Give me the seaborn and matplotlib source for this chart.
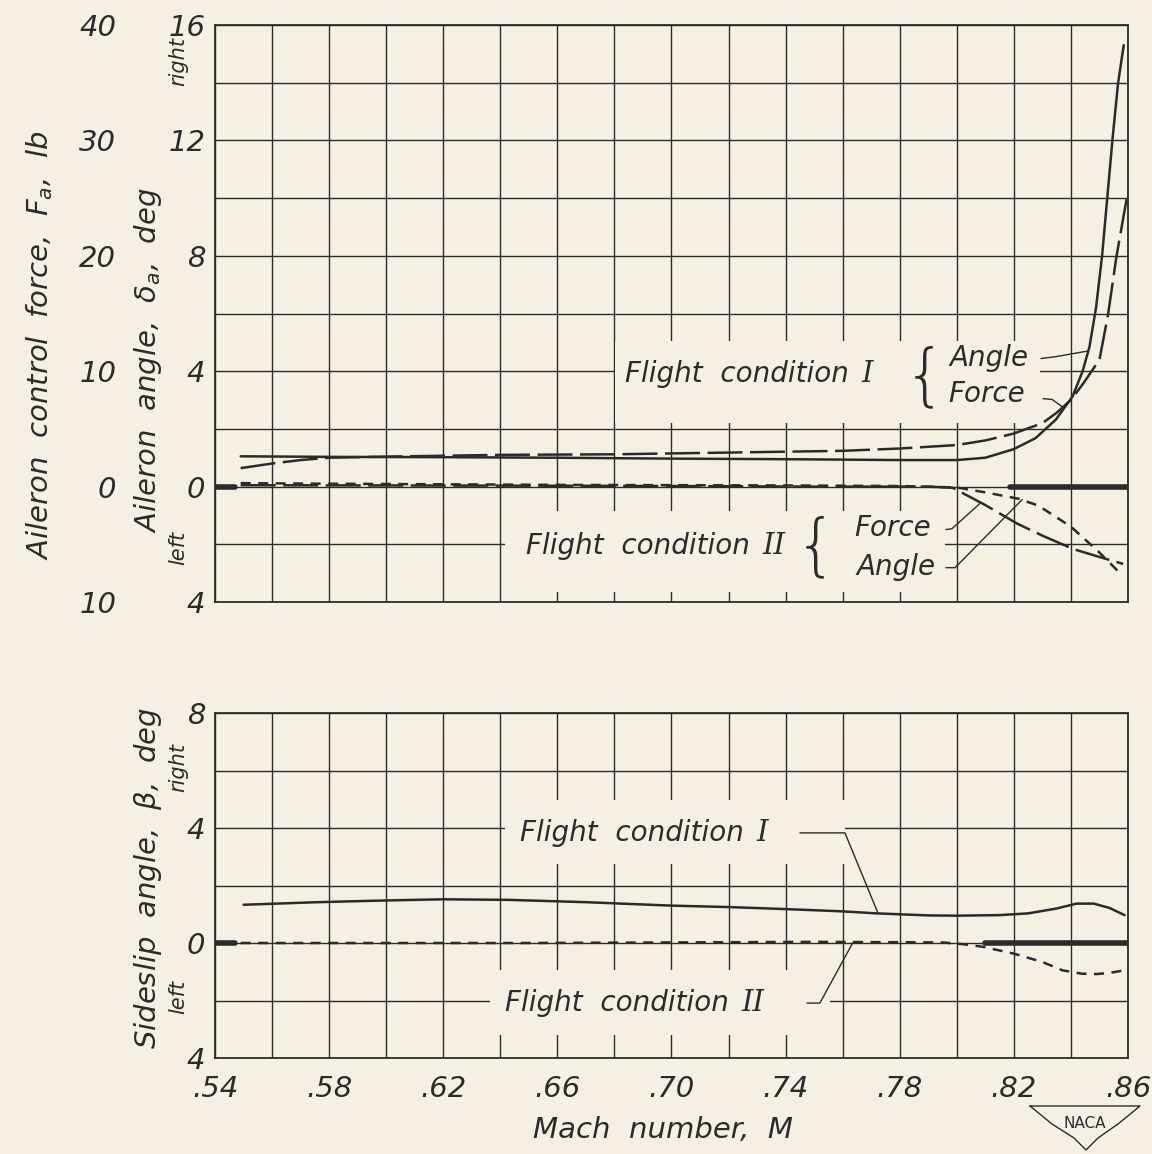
import numpy as np
import pandas as pd
import matplotlib
matplotlib.use("Agg")
import matplotlib.pyplot as plt
from matplotlib.patches import Rectangle
import seaborn as sns

# ---- data ----
# top panel: aileron angle (deg) and aileron force (lb), flight conditions I and II
mach_ang_1 = [.549, .58, .62, .66, .70, .74, .78, .80, .81, .82, .8276, .8347, .8406,
              .8441, .8465, .8488, .8509, .8527, .8545, .8565, .8585]
ang_1 = [1.05, 1.03, 1.02, 1.0, .97, .95, .92, .92, 1.0, 1.3, 1.68, 2.32, 3.13,
         4.0, 4.85, 6.2, 7.98, 9.97, 11.97, 13.97, 15.3]

mach_frc_1 = [.549, .56, .57, .58, .60, .64, .68, .72, .76, .78, .80, .81, .82, .83,
              .835, .84, .8445, .85, .853, .856, .8595]
frc_1 = [1.6, 2.0, 2.3, 2.5, 2.6, 2.75, 2.8, 2.95, 3.1, 3.3, 3.6, 4.0, 4.6, 5.5,
         6.4, 7.5, 9.0, 11.0, 14.9, 20.0, 24.9]

mach_ang_2 = [.549, .58, .62, .66, .70, .74, .78, .80, .81, .8216, .8286, .84, .8496, .858]
ang_2 = [.12, .1, .08, .06, .05, .04, .02, -.03, -.2, -.42, -.66, -1.39, -2.25, -3.08]

mach_frc_2 = [.549, .60, .65, .70, .75, .79, .7985, .81, .8211, .83, .8407, .85, .8583]
frc_2 = [.12, .1, .08, .05, 0, 0, -.1, -1.6, -3.2, -4.25, -5.4, -6.1, -6.7]

# bottom panel: sideslip angle (deg)
mach_beta_1 = [.55, .576, .60, .62, .643, .67, .70, .72, .74, .76, .772, .79, .80,
               .815, .825, .835, .842, .848, .8535, .8588]
beta_1 = [1.33, 1.42, 1.48, 1.52, 1.5, 1.42, 1.3, 1.25, 1.18, 1.1, 1.03, .96, .95,
          .97, 1.03, 1.2, 1.37, 1.37, 1.22, .97]

mach_beta_2 = [.549, .60, .65, .70, .75, .795, .802, .809, .82, .83, .837, .844,
               .849, .8535, .8588]
beta_2 = [0, 0, 0, .02, .04, .02, -.04, -.13, -.37, -.66, -.95, -1.07, -1.08, -1.04, -.95]

# heavy zero reference marks
zero_left = [.54, .547]
zero_right_top = [.8185, .86]
zero_right_bot = [.81, .86]
zero_val = [0, 0]

x_ticks = [.54, .58, .62, .66, .70, .74, .78, .82, .86]
ang_ticks = [-4, 0, 4, 8, 12, 16]
frc_ticks = [-10, 0, 10, 20, 30, 40]
beta_ticks = [-4, 0, 4, 8]

# ---- style ----
bg = "#f6f0e4"
ink = "#2b2b2b"
sns.set_style("white")
plt.rcParams["font.family"] = ["DejaVu Sans"]
plt.rcParams["font.style"] = "italic"
plt.rcParams["mathtext.fontset"] = "dejavusans"

fig = plt.figure(figsize=(11.52, 11.54), dpi=100)
fig.patch.set_facecolor(bg)

W, H = 1152, 1154
ax1 = fig.add_axes([215 / W, 1 - 602 / H, 913 / W, 577 / H])
ax2 = fig.add_axes([215 / W, 1 - 1058 / H, 913 / W, 345 / H])

fs_tick = 21
solid = "-"
short = (0, (4, 3))
long_ = (0, (14, 3))


def setup(ax, ylo, yhi):
    ax.set_facecolor(bg)
    ax.set_xlim(.54, .86)
    ax.set_ylim(ylo, yhi)
    ax.set_xticks(x_ticks)
    ax.set_xticks(np.arange(.54, .8601, .02), minor=True)
    ax.set_yticks(np.arange(ylo, yhi + .01, 2), minor=True)
    ax.grid(True, which="both", color=ink, lw=1.0)
    ax.set_axisbelow(True)
    ax.tick_params(which="both", length=0, labelsize=fs_tick, colors=ink)
    for s in ax.spines.values():
        s.set_color(ink)
        s.set_linewidth(1.3)


setup(ax1, -4, 16)
setup(ax2, -4, 8)

ax1.set_yticks(ang_ticks)
ax1.set_yticklabels([str(abs(v)) for v in ang_ticks])
ax1.set_xticklabels([])
ax1.tick_params(axis="y", pad=7)
ax2.set_yticks(beta_ticks)
ax2.set_yticklabels([str(abs(v)) for v in beta_ticks])
ax2.set_xticklabels([("%.2f" % v).lstrip("0") for v in x_ticks])
ax2.tick_params(axis="y", pad=7)
ax2.tick_params(axis="x", pad=12)

# force scale on the outer left
axf = ax1.twinx()
axf.set_ylim(-10, 40)
axf.set_yticks(frc_ticks)
axf.set_yticklabels([str(abs(v)) for v in frc_ticks])
axf.yaxis.set_ticks_position("left")
axf.tick_params(axis="y", length=0, pad=71, labelsize=fs_tick, colors=ink,
                labelleft=True, labelright=False)
for s in axf.spines.values():
    s.set_visible(False)
axf.patch.set_visible(False)


# masks behind the labels (break the grid like the original)
def mask(ax, x0, x1, y0, y1):
    ax.add_patch(Rectangle((x0, y0), x1 - x0, y1 - y0, facecolor=bg,
                           edgecolor="none", zorder=1.5))


mask(ax1, .6802, .8292, 2.22, 5.06)
mask(ax1, .6416, .7959, -3.67, -0.85)
mask(ax2, .6416, .7608, 2.75, 4.97)
mask(ax2, .6364, .7556, -3.2, -0.94)

# ---- curves ----
lw = 1.8
sns.lineplot(x=mach_ang_1, y=ang_1, ax=ax1, color=ink, lw=lw, linestyle=solid,
             errorbar=None, zorder=3)
sns.lineplot(x=mach_ang_2, y=ang_2, ax=ax1, color=ink, lw=lw, linestyle=short,
             errorbar=None, zorder=3)
sns.lineplot(x=mach_frc_1, y=frc_1, ax=axf, color=ink, lw=lw, linestyle=long_,
             errorbar=None, zorder=3)
sns.lineplot(x=mach_frc_2, y=frc_2, ax=axf, color=ink, lw=lw, linestyle=long_,
             errorbar=None, zorder=3)
for xs in (zero_left, zero_right_top):
    sns.lineplot(x=xs, y=zero_val, ax=ax1, color=ink, lw=4, errorbar=None, zorder=3)

sns.lineplot(x=mach_beta_1, y=beta_1, ax=ax2, color=ink, lw=lw, linestyle=solid,
             errorbar=None, zorder=3)
sns.lineplot(x=mach_beta_2, y=beta_2, ax=ax2, color=ink, lw=lw, linestyle=short,
             errorbar=None, zorder=3)
for xs in (zero_left, zero_right_bot):
    sns.lineplot(x=xs, y=zero_val, ax=ax2, color=ink, lw=4, errorbar=None, zorder=3)

for a in (ax1, ax2, axf):
    a.set_xlim(.54, .86)
    a.set_xlabel("")
    a.set_ylabel("")
ax1.set_ylim(-4, 16)
ax2.set_ylim(-4, 8)
axf.set_ylim(-10, 40)

# ---- labels and leaders ----
fl = 20
tk = dict(color=ink, fontsize=fl, va="center", ha="left", zorder=4)
num = dict(color=ink, fontsize=fl + 1, va="center", ha="left", zorder=4,
           family="DejaVu Serif", fontstyle="italic",
           xytext=(9, 0), textcoords="offset points", xy=(1, 0.5))


def cond_label(ax, x, y, numeral):
    t = ax.text(x, y, "Flight  condition", **tk)
    ax.annotate(numeral, xycoords=t, **num)


cond_label(ax1, .6837, 3.92, "I")
cond_label(ax1, .6490, -2.05, "II")
cond_label(ax2, .6469, 3.83, "I")
cond_label(ax2, .6416, -2.09, "II")
ax1.text(.7976, 4.47, "Angle", **tk)
ax1.text(.7969, 3.22, "Force", **tk)
ax1.text(.7640, -1.42, "Force", **tk)
ax1.text(.7650, -2.77, "Angle", **tk)

br = dict(color=ink, fontsize=48, va="center", ha="center", zorder=4,
          fontweight="light", fontstyle="normal")
ax1.text(.7889, 3.74, "{", **br)
ax1.text(.7505, -2.15, "{", **br)

ld = dict(color=ink, lw=1.0, zorder=4)
ax1.plot([.8295, .8344, .846], [4.44, 4.5, 4.7], **ld)
ax1.plot([.8302, .8334, .8372], [3.05, 3.02, 2.75], **ld)
ax1.plot([.7962, .7983, .8085], [-1.49, -1.46, -0.55], **ld)
ax1.plot([.7962, .7994, .8229], [-2.81, -2.81, -0.45], **ld)
ax2.plot([.745, .7608, .7724], [3.83, 3.83, 1.03], **ld)
ax2.plot([.7475, .752, .7636], [-2.09, -2.09, 0.02], **ld)

ylab = dict(color=ink, fontsize=21, rotation=90, ha="center", va="center")
fig.text(40 / W, 1 - 345 / H, "Aileron  control  force,  $F_a$,  lb", **ylab)
fig.text(148 / W, 1 - 360 / H, "Aileron  angle,  $\\delta_a$,  deg", **ylab)
fig.text(148 / W, 1 - 878 / H, "Sideslip  angle,  $\\beta$,  deg", **ylab)
sm = dict(color=ink, fontsize=15, rotation=90, ha="center", va="center")
fig.text(178 / W, 1 - 62 / H, "right", **sm)
fig.text(178 / W, 1 - 548 / H, "left", **sm)
fig.text(178 / W, 1 - 768 / H, "right", **sm)
fig.text(178 / W, 1 - 997 / H, "left", **sm)
fig.text(663 / W, 1 - 1130 / H, "Mach  number,  M", color=ink, fontsize=21,
         ha="center", va="center")

# small NACA mark
wing_x = np.array([1030, 1140, 1118, 1098, 1086, 1074, 1052, 1030]) / W
wing_y = 1 - np.array([1106, 1106, 1124, 1138, 1150, 1138, 1124, 1106]) / H
fig.add_artist(plt.Line2D(wing_x, wing_y, color=ink, lw=1.0))
fig.text(1085 / W, 1 - 1124 / H, "NACA", color=ink, fontsize=11, fontstyle="normal",
         ha="center", va="center")

fig.savefig("out.png", dpi=100, facecolor=bg)
